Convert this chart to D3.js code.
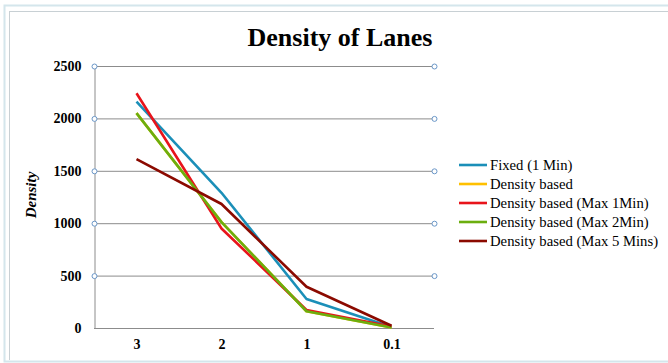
<!DOCTYPE html>
<html><head><meta charset="utf-8">
<script src="https://cdn.jsdelivr.net/npm/d3@7"></script>
<style>body{margin:0;background:#fff}svg{display:block}text{font-family:"Liberation Serif","Times New Roman",serif}</style>
</head><body>
<script>
const categories = ["3", "2", "1", "0.1"];
const seriesNames = ["Fixed (1 Min)", "Density based", "Density based (Max 1Min)", "Density based (Max 2Min)", "Density based (Max 5 Mins)"];
const fixed1 = [2160, 1290, 277, 10];
const densityBased = [2050, 1010, 160, 5];
const max1 = [2240, 950, 172, 15];
const max2 = [2050, 1010, 160, 5];
const max5 = [1612, 1183, 394, 22];
const colors = ["#1B8FB8", "#FFC000", "#E8141B", "#6BAE0F", "#8B0A00"];
const yTicks = [0, 500, 1000, 1500, 2000, 2500];
const allSeries = [fixed1, densityBased, max1, max2, max5];

const W = 668, H = 363;
const FONT = "'Liberation Serif', 'Times New Roman', serif";
const svg = d3.select("body").append("svg").attr("width", W).attr("height", H);

// frame
svg.append("rect").attr("x", 4.5).attr("y", 5.5).attr("width", 670).attr("height", 356)
  .attr("fill", "none").attr("stroke", "#d4e6ec").attr("stroke-width", 2);
svg.append("line").attr("x1", 9).attr("x2", 668).attr("y1", 11.5).attr("y2", 11.5).attr("stroke", "#c8d0d4");
svg.append("line").attr("x1", 9.5).attr("x2", 9.5).attr("y1", 11).attr("y2", 360).attr("stroke", "#c8d0d4");

const x = d3.scalePoint().domain(categories).range([94, 434]).padding(0.5);
const y = d3.scaleLinear().domain([0, 2500]).range([328, 66]);

// gridlines
svg.append("g").selectAll("line").data(yTicks.filter(d => d > 0)).join("line")
  .attr("x1", 94).attr("x2", 434).attr("y1", d => y(d) + 0.5).attr("y2", d => y(d) + 0.5)
  .attr("stroke", "#8c8c8c").attr("stroke-width", 1);

// axes
const yAxis = d3.axisLeft(y).tickValues(yTicks).tickFormat(d3.format("d")).tickSize(0).tickPadding(13);
const gy = svg.append("g").attr("transform", "translate(94.5,0)").call(yAxis).attr("font-family", FONT);
gy.select(".domain").attr("stroke", "#8c8c8c");
gy.selectAll("text").attr("font-family", FONT).attr("font-weight", "bold")
  .attr("font-size", 14).attr("fill", "#000");

const xAxis = d3.axisBottom(x).tickSize(0).tickPadding(11);
const gx = svg.append("g").attr("transform", "translate(0,328.5)").call(xAxis).attr("font-family", FONT);
gx.select(".domain").attr("stroke", "#8c8c8c").attr("d", "M94,0H434");
gx.selectAll("text").attr("font-family", FONT).attr("font-weight", "bold")
  .attr("font-size", 14).attr("fill", "#000");

// series lines
const line = d3.line().x((d, i) => x(categories[i])).y(d => y(d));
allSeries.forEach((s, i) => {
  svg.append("path").datum(s).attr("d", line).attr("fill", "none")
    .attr("stroke", colors[i]).attr("stroke-width", 2.6).attr("stroke-linejoin", "round");
});

// handles
const handles = [];
yTicks.filter(d => d > 0).forEach(d => { handles.push([94, y(d)]); handles.push([434, y(d)]); });
svg.append("g").selectAll("circle").data(handles).join("circle")
  .attr("cx", d => d[0] + 0.5).attr("cy", d => d[1] + 0.5).attr("r", 2.5)
  .attr("fill", "#fff").attr("stroke", "#6a97c8").attr("stroke-width", 1);

// title
svg.append("text").attr("x", 340).attr("y", 46).attr("text-anchor", "middle")
  .attr("font-family", FONT).attr("font-weight", "bold").attr("font-size", 26)
  .text("Density of Lanes");

// y label
svg.append("text").attr("transform", "translate(36,195) rotate(-90)").attr("text-anchor", "middle")
  .attr("font-family", FONT).attr("font-weight", "bold").attr("font-style", "italic")
  .attr("font-size", 15).text("Density");

// legend
const lg = svg.append("g");
seriesNames.forEach((n, i) => {
  const yy = 165 + i * 19;
  lg.append("line").attr("x1", 459).attr("x2", 487).attr("y1", yy).attr("y2", yy)
    .attr("stroke", colors[i]).attr("stroke-width", 2.6);
  lg.append("text").attr("x", 490).attr("y", yy + 4.5).attr("font-family", FONT)
    .attr("font-size", 14.7).attr("fill", "#000").text(n);
});
</script>
</body></html>
